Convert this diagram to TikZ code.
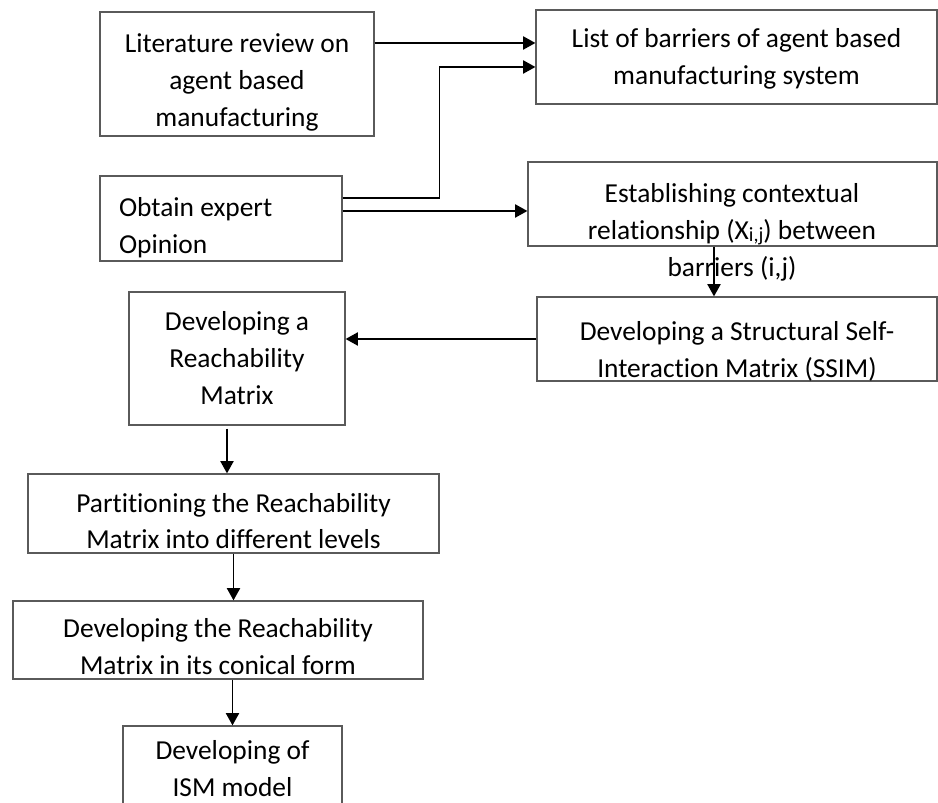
\documentclass[tikz,border=0pt]{standalone}
\usepackage{fontspec}
\setmainfont{Carlito}[Ligatures=NoCommon]
\usepackage{tikz}
\usetikzlibrary{arrows.meta, positioning, calc}
\definecolor{boxline}{RGB}{90, 90, 90}
\tikzstyle{stepbox} = [rectangle, draw=boxline, line width=0.7pt, inner xsep=2pt, inner ysep=0pt, font=\fontsize{15.6}{21}\selectfont]
\tikzstyle{plaintext} = [inner sep=0pt, font=\fontsize{15.6}{21}\selectfont]
\tikzstyle{arrow} = [line width=0.95pt, -{Triangle[length=7pt, width=7.5pt]}]
% lines of a box, lowered a little inside the frame
\newcommand{\boxlines}[3][c]{\raisebox{-#2}[\height][\depth]{\begin{tabular}{@{}#1@{}}#3\end{tabular}}}

\begin{document}
\begin{tikzpicture}
    \useasboundingbox (0, 0) rectangle (18.76, -16.06);
    \clip (0, 0) rectangle (18.76, -16.06);

    % Inputs
    \node[stepbox, minimum width=5.48cm, minimum height=2.48cm] (lit) at (4.74, -1.48) {\boxlines{4.5pt}{Literature review on\\agent based\\manufacturing}};
    \node[stepbox, minimum width=4.84cm, minimum height=1.70cm] (obtain) at (4.42, -4.37) {\makebox[4.08cm][l]{\boxlines[l]{5pt}{Obtain expert\\Opinion}}};

    % Right column
    \node[stepbox, minimum width=8.02cm, minimum height=1.88cm] (list) at (14.73, -1.14) {\boxlines{1pt}{List of barriers of agent based\\manufacturing system}};
    \node[stepbox, minimum width=8.18cm, minimum height=1.68cm] (est) at (14.65, -4.08) {};
    \node[plaintext] (esttext) at (14.64, -4.64) {\boxlines{0pt}{Establishing contextual\\relationship (X\raisebox{-0.15ex}{\fontsize{11.5}{12}\selectfont i,j}) between\\barriers (i,j)}};
    \node[stepbox, minimum width=8.00cm, minimum height=1.68cm] (ssim) at (14.74, -6.78) {\boxlines{7pt}{Developing a Structural Self-\\Interaction Matrix (SSIM)}};

    % Left column
    \node[stepbox, minimum width=4.32cm, minimum height=2.66cm] (reach) at (4.74, -7.17) {\boxlines{1pt}{Developing a\\Reachability\\Matrix}};
    \node[stepbox, minimum width=8.22cm, minimum height=1.58cm] (part) at (4.67, -10.27) {\boxlines{5.5pt}{Partitioning the Reachability\\Matrix into different levels}};
    \node[stepbox, minimum width=8.20cm, minimum height=1.56cm] (conical) at (4.36, -12.80) {\boxlines{5pt}{Developing the Reachability\\Matrix in its conical form}};
    \node[stepbox, minimum width=4.38cm, minimum height=1.70cm] (ism) at (4.65, -15.37) {\boxlines{1pt}{Developing of\\ISM model}};

    % Arrows
    \draw[arrow] ([yshift=0.62cm]lit.east) -- ([yshift=0.62cm]lit.east -| list.west);
    \draw[arrow] ([yshift=0.41cm]obtain.east) -- ++(1.94, 0) |- ([yshift=-0.20cm]list.west);
    \draw[arrow] ([yshift=0.15cm]obtain.east) -- ([yshift=0.15cm]obtain.east -| est.west);
    \draw[arrow] ([xshift=-0.37cm]est.south) -- ([xshift=-0.37cm]est.south |- ssim.north);
    \draw[arrow] (ssim.west) -- (ssim.west -| reach.east);
    \draw[arrow] ([xshift=-0.20cm, yshift=-0.06cm]reach.south) -- ([xshift=-0.20cm]reach.south |- part.north);
    \draw[arrow] (part.south) -- (part.south |- conical.north);
    \draw[arrow] (ism.north |- conical.south) -- (ism.north);
\end{tikzpicture}
\end{document}
